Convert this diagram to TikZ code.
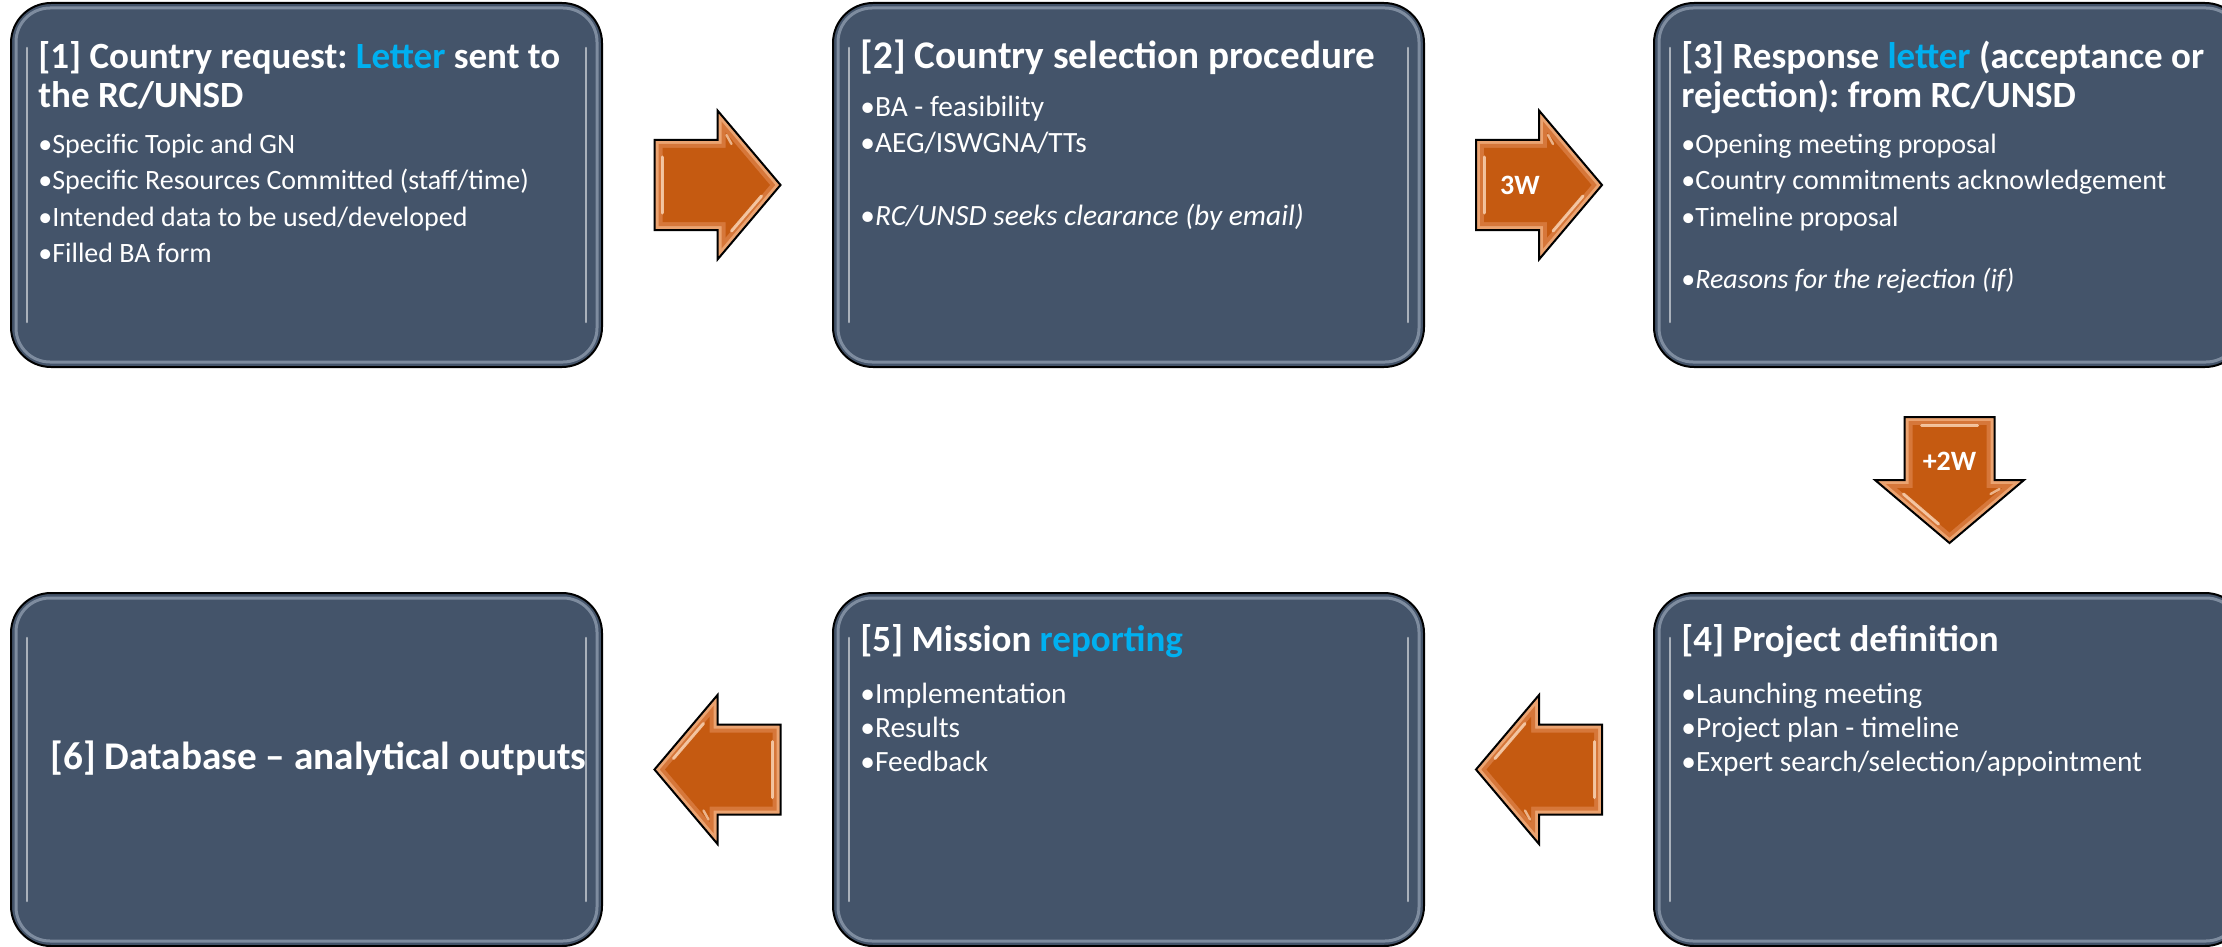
\documentclass[tikz,border=0pt]{standalone}
\usepackage{fontspec}
\setmainfont{Carlito}
\usetikzlibrary{calc}
\frenchspacing
\definecolor{boxfill}{HTML}{44546A}
\definecolor{hl}{HTML}{00B0F0}
\definecolor{orgmain}{HTML}{C55A11}
\definecolor{orgmid}{HTML}{D6773A}
\definecolor{orglight}{HTML}{EBA370}
\definecolor{orgshine}{HTML}{FCDABD}
\definecolor{bevel}{HTML}{8D9AAD}
\tikzset{
  stepbox/.style={draw=black, line width=1pt, fill=boxfill, rounded corners=20pt,
    minimum width=295.5pt, inner sep=0pt, outer sep=0pt},
  toprow/.style={stepbox, minimum height=182pt},
  botrow/.style={stepbox, minimum height=176.5pt},
  ttl/.style={font=\bfseries\fontsize{18.5}{22}\selectfont, text=white, inner sep=0pt, anchor=base west},
  ttlb/.style={ttl, font=\bfseries\fontsize{19.6}{23}\selectfont},
  itm/.style={font=\fontsize{14}{17}\selectfont, text=white, inner sep=0pt, anchor=base west},
  itmb/.style={itm, font=\fontsize{14.7}{17}\selectfont},
  lbl/.style={font=\bfseries\fontsize{14}{17}\selectfont, text=white, inner sep=0pt},
  barrow/.pic={
    \fill[orglight] (-63,-45) -- (0,-45) -- (0,-74.5) -- (63,0) -- (0,74.5) -- (0,45) -- (-63,45) -- cycle;
    \fill[orgmid] (-59,-41) -- (4,-41) -- (4,-63.6) -- (57.7,0) -- (4,63.6) -- (4,41) -- (-59,41) -- cycle;
    \fill[orgmain] (-55,-37) -- (8,-37) -- (8,-52.6) -- (52.5,0) -- (8,52.6) -- (8,37) -- (-55,37) -- cycle;
    \draw[orgshine, line width=1.5pt, opacity=0.8, line cap=round] (-55,-28) -- (-55,28);
    \draw[orgshine, line width=1.5pt, opacity=0.8, line cap=round] (14,46) -- (44,11);
    \draw[orgshine, line width=1.2pt, opacity=0.7, line cap=round] (9,-50) -- (14,-41);
    \draw[black, line width=1pt, line join=miter]
      (-63,-45) -- (0,-45) -- (0,-74.5) -- (63,0) -- (0,74.5) -- (0,45) -- (-63,45) -- cycle;
    \node[lbl] (-label) at (-19,0) {#1};
  }
}
\newcommand\boxbevel[1]{%
  \draw[bevel, line width=1.5pt, rounded corners=17pt, opacity=0.8]
    ([shift={(5,5)}]#1.north west) rectangle ([shift={(-5,-5)}]#1.south east);
  \draw[white, opacity=0.55, line width=1.3pt, line cap=round]
    ([shift={(16,45)}]#1.north west) -- ([shift={(16,-45)}]#1.south west);
  \draw[white, opacity=0.55, line width=1.3pt, line cap=round]
    ([shift={(-16,45)}]#1.north east) -- ([shift={(-16,-45)}]#1.south east);
}
\begin{document}
\begin{tikzpicture}[x=0.5pt, y=-0.5pt]
\useasboundingbox (0,0) rectangle (2222,947);
\clip (0,0) rectangle (2222,947);

% boxes
\node[toprow] (b1) at (306.5,185) {};
\node[toprow] (b2) at (1128.5,185) {};
\node[toprow] (b3) at (1949.5,185) {};
\node[botrow] (b4) at (1949.5,769.5) {};
\node[botrow] (b5) at (1128.5,769.5) {};
\node[botrow] (b6) at (306.5,769.5) {};
\boxbevel{b1}\boxbevel{b2}\boxbevel{b3}\boxbevel{b4}\boxbevel{b5}\boxbevel{b6}

% box 1
\node[ttl] (t1a) at ([shift={(27,66)}]b1.north west) {[1] Country request: \textcolor{hl}{Letter} sent to};
\node[ttl] (t1b) at ([shift={(27,105)}]b1.north west) {the RC/UNSD};
\node[itm] (p1a) at ([shift={(27,151)}]b1.north west) {•Specific Topic and GN};
\node[itm] (p1b) at ([shift={(27,187)}]b1.north west) {•Specific Resources Committed (staff/time)};
\node[itm] (p1c) at ([shift={(27,223)}]b1.north west) {•Intended data to be used/developed};
\node[itm] (p1d) at ([shift={(27,259)}]b1.north west) {•Filled BA form};

% box 2
\node[ttlb] (t2a) at ([shift={(27,66)}]b2.north west) {[2] Country selection procedure};
\node[itmb] (p2a) at ([shift={(27,114)}]b2.north west) {•BA - feasibility};
\node[itmb] (p2b) at ([shift={(27,150)}]b2.north west) {•AEG/ISWGNA/TTs};
\node[itmb] (p2c) at ([shift={(27,222)}]b2.north west) {•\textit{RC/UNSD seeks clearance (by email)}};

% box 3
\node[ttl] (t3a) at ([shift={(27,66)}]b3.north west) {[3] Response \textcolor{hl}{letter} (acceptance or};
\node[ttl] (t3b) at ([shift={(27,105)}]b3.north west) {rejection): from RC/UNSD};
\node[itm] (p3a) at ([shift={(27,151)}]b3.north west) {•Opening meeting proposal};
\node[itm] (p3b) at ([shift={(27,187)}]b3.north west) {•Country commitments acknowledgement};
\node[itm] (p3c) at ([shift={(27,223)}]b3.north west) {•Timeline proposal};
\node[itm] (p3d) at ([shift={(27,285)}]b3.north west) {•\textit{Reasons for the rejection (if)}};

% box 4
\node[ttl] (t4a) at ([shift={(27,58)}]b4.north west) {[4] Project definition};
\node[itmb] (p4a) at ([shift={(27,110)}]b4.north west) {•Launching meeting};
\node[itmb] (p4b) at ([shift={(27,144)}]b4.north west) {•Project plan - timeline};
\node[itmb] (p4c) at ([shift={(27,178)}]b4.north west) {•Expert search/selection/appointment};

% box 5
\node[ttl] (t5a) at ([shift={(27,58)}]b5.north west) {[5] Mission \textcolor{hl}{reporting}};
\node[itmb] (p5a) at ([shift={(27,110)}]b5.north west) {•Implementation};
\node[itmb] (p5b) at ([shift={(27,144)}]b5.north west) {•Results};
\node[itmb] (p5c) at ([shift={(27,178)}]b5.north west) {•Feedback};

% box 6
\node[ttlb, anchor=center] (t6) at ([shift={(12,-11)}]b6.center) {[6] Database – analytical outputs};

% block arrows
\pic (a1) at ($(b1.east)!0.5!(b2.west)$) {barrow={}};
\pic (a2) at ($(b2.east)!0.5!(b3.west)$) {barrow={3W}};
\pic[rotate=-90] (a3) at ($(b3.south)!0.5!(b4.north)$) {barrow={+2W}};
\pic[rotate=180] (a4) at ($(b4.west)!0.5!(b5.east)$) {barrow={}};
\pic[rotate=180] (a5) at ($(b5.west)!0.5!(b6.east)$) {barrow={}};
\end{tikzpicture}
\end{document}
